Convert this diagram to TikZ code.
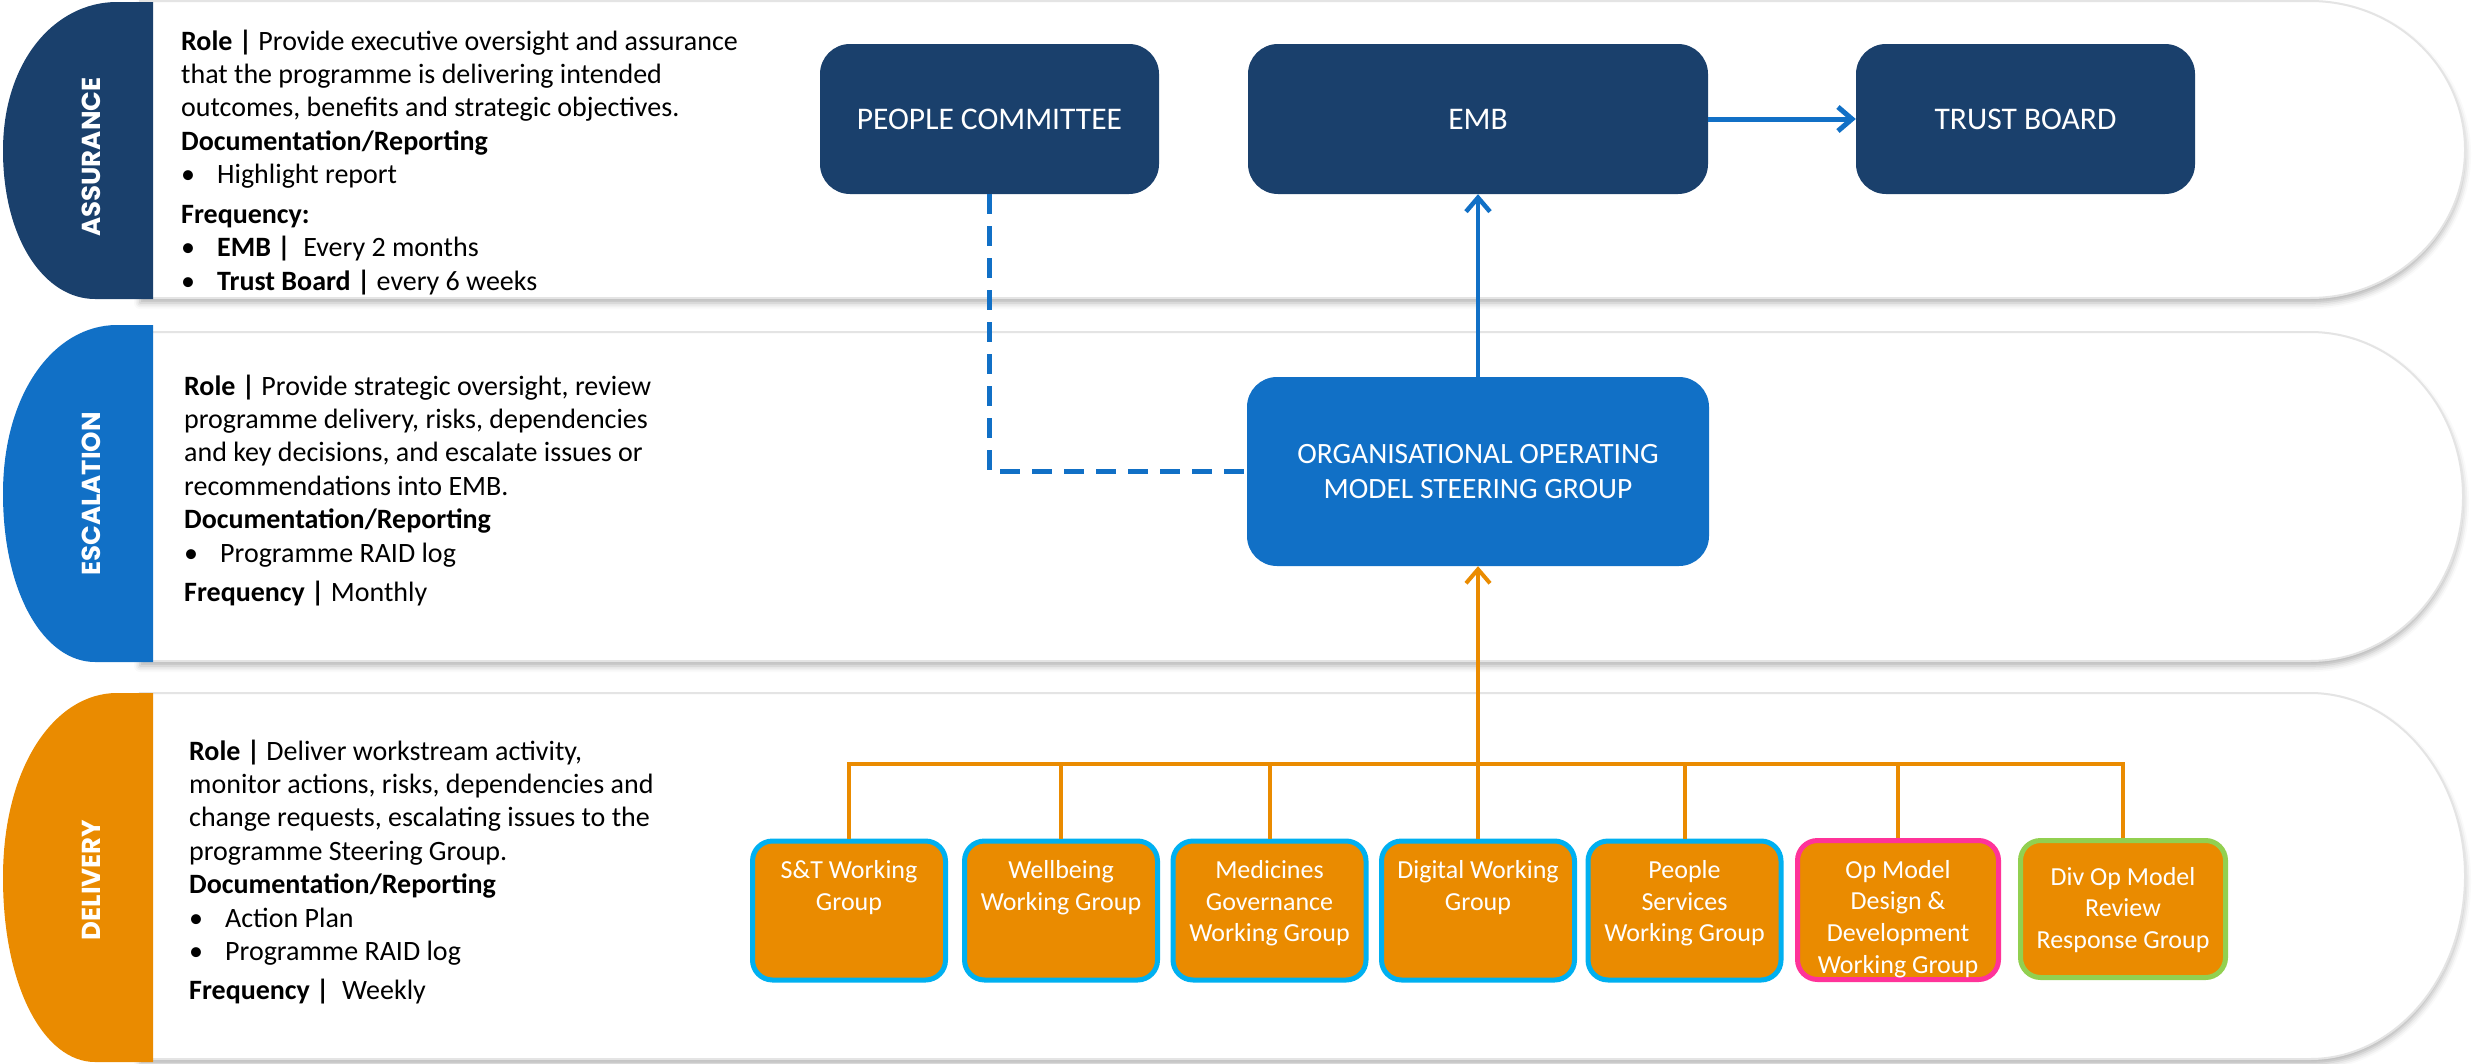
\documentclass[tikz,border=0pt]{standalone}
\usepackage{fontspec}
\setmainfont{Carlito}
\newfontfamily\bandfont{Poppins}
\usetikzlibrary{arrows.meta,shadows.blur}

\definecolor{navy}{HTML}{1A406C}
\definecolor{midblue}{HTML}{1170C6}
\definecolor{amber}{HTML}{EA8B00}
\definecolor{cyanrim}{HTML}{00B0F0}
\definecolor{pinkrim}{HTML}{FF3399}
\definecolor{greenrim}{HTML}{92D050}
\definecolor{bandedge}{HTML}{E4E4E4}

\newcommand\bul{\makebox[36pt][l]{•}}

\begin{document}
\begin{tikzpicture}[x=1pt,y=-1pt,
  band/.style={fill=white, draw=bandedge, line width=2pt,
    blur shadow={shadow xshift=0pt, shadow yshift=-5pt, shadow blur radius=6pt, shadow opacity=30}},
  tablabel/.style={text=white, rotate=90, inner sep=0pt, font=\bandfont\bfseries\fontsize{26}{26}\selectfont},
  infotext/.style={inner sep=0pt, anchor=base west, font=\fontsize{28}{33.4}\selectfont},
  topbox/.style={rectangle, rounded corners=30pt, fill=navy, text=white, align=center,
    inner sep=0pt, minimum height=150pt, font=\fontsize{31.5}{35}\selectfont},
  wgbox/.style={rectangle, rounded corners=20pt, fill=amber, draw=cyanrim, line width=5pt,
    minimum height=139pt, minimum width=193pt, text=white, inner sep=0pt,
    font=\fontsize{26}{31.7}\selectfont},
  bluearrow/.style={draw=midblue, line width=4.5pt, -{Straight Barb[length=14pt,width=24pt]}},
  bluedash/.style={draw=midblue, line width=4.5pt, dash pattern=on 20pt off 12pt},
  amberline/.style={draw=amber, line width=4pt},
  amberarrow/.style={draw=amber, line width=4pt, -{Straight Barb[length=14pt,width=24pt]}}]

\useasboundingbox (0,0) rectangle (2473,1063);

% white swim-lane bands with rounded right ends
\path[band] (140,1) -- (2310,1) .. controls (2395.6,1) and (2465,67.5) .. (2465,149.5)
  .. controls (2465,231.5) and (2395.6,298) .. (2310,298) -- (140,298) -- cycle;
\path[band] (140,332) -- (2310,332) .. controls (2395.6,332) and (2463,405.6) .. (2463,496.5)
  .. controls (2463,587.4) and (2395.6,661) .. (2310,661) -- (140,661) -- cycle;
\path[band] (140,693) -- (2310,693) .. controls (2395.6,693) and (2465,775) .. (2465,876)
  .. controls (2465,977) and (2395.6,1059) .. (2310,1059) -- (140,1059) -- cycle;

% coloured lane tabs
\fill[navy] (153,2) -- (117,2) .. controls (55,2) and (3,61) .. (3,150.5)
  .. controls (3,240) and (45,299) .. (95,299) -- (153,299) -- cycle;
\fill[midblue] (153,325) -- (117,325) .. controls (55,325) and (3,392) .. (3,493.5)
  .. controls (3,595) and (45,662) .. (95,662) -- (153,662) -- cycle;
\fill[amber] (153,693) -- (117,693) .. controls (55,693) and (3,766) .. (3,877.5)
  .. controls (3,989) and (45,1062) .. (95,1062) -- (153,1062) -- cycle;

\node[tablabel] (lassur) at (91,157) {ASSURANCE};
\node[tablabel] (lescal) at (91,494) {ESCALATION};
\node[tablabel] (ldeliv) at (91,880) {DELIVERY};

% lane descriptions
\node[infotext] (tassur) at (181,50) {\parbox[t]{660pt}{\raggedright
\textbf{Role |} Provide executive oversight and assurance\\
that the programme is delivering intended\\
outcomes, benefits and strategic objectives.\\
\textbf{Documentation/Reporting}\\
\bul Highlight report\\[6.5pt]
\textbf{Frequency:}\\
\bul\textbf{EMB |}\ \ Every 2 months\\
\bul\textbf{Trust Board |} every 6 weeks}};

\node[infotext] (tescal) at (184,395) {\parbox[t]{660pt}{\raggedright
\textbf{Role |} Provide strategic oversight, review\\
programme delivery, risks, dependencies\\
and key decisions, and escalate issues or\\
recommendations into EMB.\\
\textbf{Documentation/Reporting}\\
\bul Programme RAID log\\[6.5pt]
\textbf{Frequency |} Monthly}};

\node[infotext] (tdeliv) at (189,760) {\parbox[t]{660pt}{\raggedright
\textbf{Role |} Deliver workstream activity,\\
monitor actions, risks, dependencies and\\
change requests, escalating issues to the\\
programme Steering Group.\\
\textbf{Documentation/Reporting}\\
\bul Action Plan\\
\bul Programme RAID log\\[5.5pt]
\textbf{Frequency |}\ \ Weekly}};

% governance boxes
\node[topbox, minimum width=339pt] (pc) at (989.5,119) {PEOPLE COMMITTEE};
\node[topbox, minimum width=460pt] (emb) at (1478,119) {EMB};
\node[topbox, minimum width=339pt] (tb) at (2025.5,119) {TRUST BOARD};
\node[topbox, fill=midblue, minimum width=462pt, minimum height=189pt,
  font=\fontsize{29.5}{35}\selectfont] (oomsg) at (1478,471.5)
  {ORGANISATIONAL OPERATING\\MODEL STEERING GROUP};

% working groups
\node[wgbox] (w1) at (849,910.5) {\parbox[t][100pt][t]{190pt}{\centering S\&T Working\\Group}};
\node[wgbox] (w2) at (1061,910.5) {\parbox[t][100pt][t]{190pt}{\centering Wellbeing\\Working Group}};
\node[wgbox] (w3) at (1269.5,910.5) {\parbox[t][100pt][t]{190pt}{\centering Medicines\\Governance\\Working Group}};
\node[wgbox] (w4) at (1478,910.5) {\parbox[t][100pt][t]{190pt}{\centering Digital Working\\Group}};
\node[wgbox] (w5) at (1684.5,910.5) {\parbox[t][100pt][t]{190pt}{\centering People\\Services\\Working Group}};
\node[wgbox, draw=pinkrim, minimum width=201pt] (w6) at (1898,910) {\parbox[t][100pt][t]{196pt}{\centering Op Model\\Design \&\\Development\\Working Group}};
\node[wgbox, draw=greenrim, minimum width=205pt, minimum height=137pt] (w7) at (2123,909) {\parbox[t][84pt][t]{200pt}{\centering Div Op Model\\Review\\Response Group}};

% reporting lines
\draw[bluearrow] (oomsg.north) -- (emb.south);
\draw[bluearrow, line width=5pt] (emb.east) -- (tb.west);
\draw[bluedash] (pc.south) |- (oomsg.west);

\coordinate (bus) at (1478,764);
\foreach \w in {w1,w2,w3,w4,w5,w6,w7}
  \draw[amberline] (\w.north) |- (bus);
\draw[amberarrow] (bus) -- (oomsg.south);

\end{tikzpicture}
\end{document}
